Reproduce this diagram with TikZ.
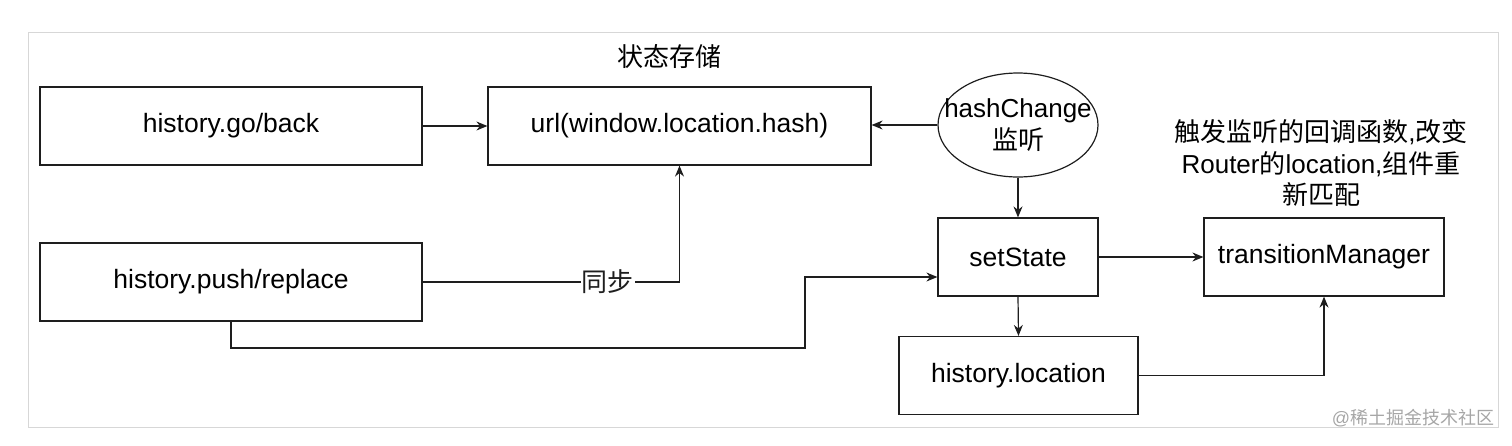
\documentclass[tikz,border=0pt]{standalone}
\usepackage{fontspec}
\setmainfont{Liberation Sans}
\newfontfamily\cjk{Noto Sans CJK SC}
\usepackage{tikz}
\usetikzlibrary{shapes.geometric,arrows.meta,positioning,calc}
\definecolor{inkgray}{RGB}{30,30,30}
\definecolor{framegray}{RGB}{215,215,215}
\tikzset{
  box/.style={rectangle,draw=inkgray,line width=1.2pt,fill=white,minimum width=#1,
    minimum height=78pt,align=center,inner sep=0pt,font=\fontsize{26.5}{31}\selectfont},
  box/.default=382pt,
  oval/.style={ellipse,draw=inkgray,line width=1.2pt,minimum width=160pt,minimum height=104pt,inner sep=0pt},
  txt/.style={align=center,inner sep=0pt,font=\fontsize{26}{32}\selectfont},
  arr/.style={-{Stealth[length=11pt,width=9pt]},line width=1.2pt,color=inkgray}
}
\begin{document}
\begin{tikzpicture}[x=1pt,y=-1pt]
    \useasboundingbox (0,0) rectangle (1512,445);
    % Frame
    \draw[framegray,line width=1pt] (28,32) rectangle (1498,427);

    % Left column
    \node[box] (go) at (231,126) {history.go/back};
    \node[box] (push) at (231,282) {history.push/replace};

    % Store
    \node[box=383pt] (url) at (679.5,126) {url(window.location.hash)};
    \node[txt] (title) at (669,57) {\cjk 状态存储};

    % Listener
    \node[oval] (hash) at (1018,125) {};
    \node[txt] (hashtxt) at (hash) {hashChange\\{\cjk 监听}};

    % Right part
    \node[box=160pt] (set) at (1018,257) {setState};
    \node[box=240pt] (tm) at (1324,257) {transitionManager};
    \node[box=239pt] (loc) at (1018.5,375.5) {history.location};
    \node[txt,font=\fontsize{26}{31.5}\selectfont] (note) at (1321,163)
      {{\cjk 触发监听的回调函数},{\cjk 改变}\\Router{\cjk 的}location,{\cjk 组件重}\\{\cjk 新匹配}};

    % Watermark
    \node[txt,font=\fontsize{18}{20}\selectfont,text=gray!70] (mark) at (1413,418) {@{\cjk 稀土掘金技术社区}};

    % Arrows
    \coordinate (bend) at (805,348);
    \draw[arr] (go) -- (url);
    \draw[arr] (hash.west) -- (hash.west -| url.east);
    \draw[arr] (push.east) -- node[pos=0.72,fill=white,txt,inner sep=1pt] (sync) {\cjk 同步}
      (push.east -| url.south) -- (url.south);
    \draw[arr] (push.south) |- (bend) |- ([yshift=-20pt]set.west);
    \draw[arr] (hash.south) -- (set.north);
    \draw[arr] (set.east) -- (tm.west);
    \draw[arr] (set.south) -- (loc.north);
    \draw[arr] (loc.east) -| (tm.south);
  \end{tikzpicture}
\end{document}
